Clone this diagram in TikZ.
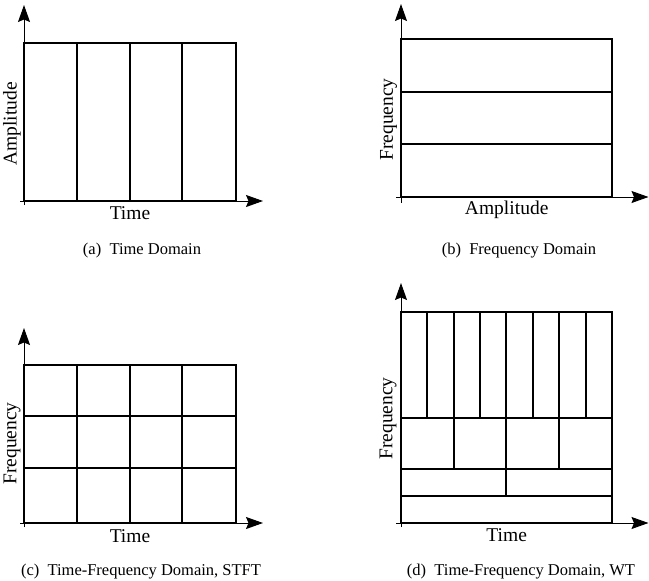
\documentclass[tikz,border=0pt]{standalone}
\usepackage{fontspec}
\setmainfont{Liberation Serif}
\usetikzlibrary{arrows.meta}
\begin{document}
\begin{tikzpicture}[x=1pt,y=-1pt,
  axis/.style={line width=1pt,-{Stealth[length=17pt,width=12pt,inset=2.5pt]}},
  cell/.style={line width=1.6pt,line cap=rect},
  axlabel/.style={font=\fontsize{19.5}{22}\selectfont,anchor=base,inner sep=0pt},
  ylabel/.style={font=\fontsize{19.5}{22}\selectfont,rotate=90,inner sep=0pt},
  caption/.style={font=\fontsize{16.5}{19}\selectfont,anchor=base,inner sep=0pt}]
\useasboundingbox (0,0) rectangle (649,581);

% ---------- (a) time domain ----------
\coordinate (a-yb) at (24,205);
\coordinate (a-yt) at (24,5);
\coordinate (a-xl) at (20,201);
\coordinate (a-xr) at (263,201);
\draw[axis] (a-yb) -- (a-yt);
\draw[axis] (a-xl) -- (a-xr);
\draw[cell] (24,43) rectangle (236,201);
\foreach \x in {77,130,182}
  \draw[cell] (\x,43) -- (\x,201);
\node[ylabel] (a-ylab) at (12,124) {Amplitude};
\node[axlabel] (a-xlab) at (130,219) {Time};
\node[caption] (a-cap) at (142,254) {(a)\enspace Time Domain};

% ---------- (b) frequency domain ----------
\coordinate (b-yb) at (401,202.5);
\coordinate (b-yt) at (401,4);
\coordinate (b-xl) at (396,197);
\coordinate (b-xr) at (648.5,197);
\draw[axis] (b-yb) -- (b-yt);
\draw[axis] (b-xl) -- (b-xr);
\draw[cell] (401,39) rectangle (612,197);
\foreach \y in {92,144}
  \draw[cell] (401,\y) -- (612,\y);
\node[ylabel] (b-ylab) at (388.5,119.5) {Frequency};
\node[axlabel] (b-xlab) at (506.7,214) {Amplitude};
\node[caption] (b-cap) at (519,254) {(b)\enspace Frequency Domain};

% ---------- (c) STFT tiling ----------
\coordinate (c-yb) at (24,527);
\coordinate (c-yt) at (24,328);
\coordinate (c-xl) at (20,523);
\coordinate (c-xr) at (263,523);
\draw[axis] (c-yb) -- (c-yt);
\draw[axis] (c-xl) -- (c-xr);
\draw[cell] (24,365) rectangle (236,523);
\foreach \x in {77,130,182}
  \draw[cell] (\x,365) -- (\x,523);
\foreach \y in {416,468}
  \draw[cell] (24,\y) -- (236,\y);
\node[ylabel] (c-ylab) at (12,443.5) {Frequency};
\node[axlabel] (c-xlab) at (130,542) {Time};
\node[caption] (c-cap) at (141,575) {(c)\enspace Time-Frequency Domain, STFT};

% ---------- (d) wavelet tiling ----------
\coordinate (d-yb) at (401,527);
\coordinate (d-yt) at (401,283);
\coordinate (d-xl) at (396,523);
\coordinate (d-xr) at (648.5,523);
\draw[axis] (d-yb) -- (d-yt);
\draw[axis] (d-xl) -- (d-xr);
\draw[cell] (401,312) rectangle (612,523);
\foreach \y in {418,469,496}
  \draw[cell] (401,\y) -- (612,\y);
% finest scale: eight columns
\foreach \x in {427,454,480,506,533,559,586}
  \draw[cell] (\x,312) -- (\x,418);
% next scale: four columns
\foreach \x in {454,506,559}
  \draw[cell] (\x,418) -- (\x,469);
% coarse scale: two columns
\draw[cell] (506,469) -- (506,496);
\node[ylabel] (d-ylab) at (388,418.5) {Frequency};
\node[axlabel] (d-xlab) at (506.7,541.5) {Time};
\node[caption] (d-cap) at (521,575) {(d)\enspace Time-Frequency Domain, WT};
\end{tikzpicture}
\end{document}
